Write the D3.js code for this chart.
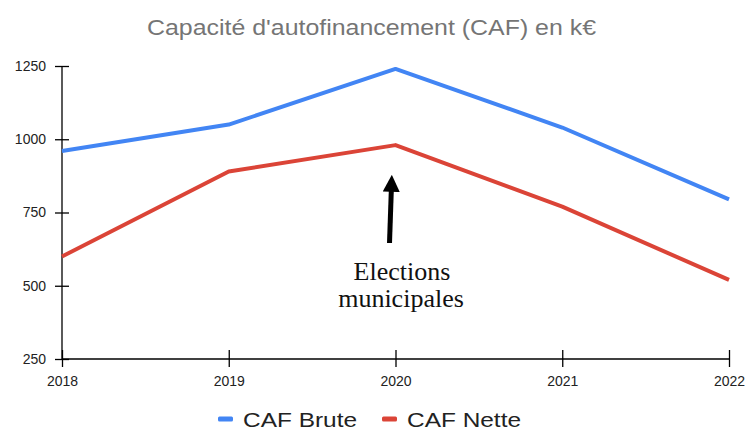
<!DOCTYPE html>
<html lang="en">
<head>
    <meta charset="UTF-8">
    <title>Capacité d'autofinancement</title>
    <script src="https://d3js.org/d3.v7.min.js"></script>
    <style>
        body {
            margin: 0;
            background: #fff;
            font-family: 'Liberation Sans', Arial, sans-serif;
        }
        svg { display: block; }
        .axis path, .axis line { stroke: #000; stroke-width: 1.3; }
        .axis text { font-size: 14px; fill: #222; font-family: 'Liberation Sans', Arial, sans-serif; }
    </style>
</head>
<body>
    <svg></svg>
    <script>
        // Chart data
        const years = [2018, 2019, 2020, 2021, 2022];
        const cafBrute = [960, 1050, 1240, 1040, 795];
        const cafNette = [600, 890, 980, 770, 520];
        const yTicks = [250, 500, 750, 1000, 1250];
        const seriesNames = ["CAF Brute", "CAF Nette"];
        const colors = ["#4285f4", "#db4437"];

        const width = 748, height = 430;
        const margin = { top: 66, right: 19, bottom: 71, left: 62 };

        const svg = d3.select("svg")
            .attr("width", width)
            .attr("height", height);

        const x = d3.scalePoint()
            .domain(years)
            .range([margin.left, width - margin.right]);

        const y = d3.scaleLinear()
            .domain([250, 1250])
            .range([height - margin.bottom, margin.top]);

        // Title (the original is a bit stretched horizontally)
        svg.append("text")
            .attr("x", 147)
            .attr("y", 35)
            .attr("textLength", 449)
            .attr("lengthAdjust", "spacingAndGlyphs")
            .style("font-size", "22px")
            .style("fill", "#757575")
            .text("Capacité d'autofinancement (CAF) en k€");

        // Y axis (ticks cross the line)
        const yAxis = svg.append("g")
            .attr("class", "axis")
            .attr("transform", `translate(${margin.left},0)`)
            .call(d3.axisLeft(y).tickValues(yTicks).tickFormat(d3.format("d")).tickSize(7).tickPadding(9));
        yAxis.select(".domain").attr("d", `M0,${y(250)}V${y(1250)}`);
        yAxis.selectAll(".tick line").attr("x1", 7).attr("x2", -7);

        // X axis
        const xAxis = svg.append("g")
            .attr("class", "axis")
            .attr("transform", `translate(0,${y(250)})`)
            .call(d3.axisBottom(x).tickFormat(d3.format("d")).tickSize(8).tickPadding(9));
        xAxis.select(".domain").attr("d", `M${margin.left},0H${width - margin.right}`);
        xAxis.selectAll(".tick line").attr("y1", -9).attr("y2", 8);

        // Lines
        const line = d3.line()
            .x((d, i) => x(years[i]))
            .y(d => y(d));

        [cafBrute, cafNette].forEach((vals, i) => {
            svg.append("path")
                .datum(vals)
                .attr("fill", "none")
                .attr("stroke", colors[i])
                .attr("stroke-width", 4)
                .attr("stroke-linejoin", "round")
                .attr("d", line);
        });

        // Annotation arrow
        svg.append("defs").append("marker")
            .attr("id", "arrow")
            .attr("viewBox", "0 0 10 10")
            .attr("refX", 4).attr("refY", 5)
            .attr("markerWidth", 3.4).attr("markerHeight", 3.4)
            .attr("orient", "auto")
            .append("path")
            .attr("d", "M0,0L10,5L0,10Z")
            .attr("fill", "#000");

        svg.append("line")
            .attr("x1", 389.5).attr("y1", 243)
            .attr("x2", 391.5).attr("y2", 185)
            .attr("stroke", "#000")
            .attr("stroke-width", 5)
            .attr("marker-end", "url(#arrow)");

        const note = svg.append("text")
            .attr("text-anchor", "middle")
            .style("font-family", "'Liberation Serif', 'Times New Roman', serif")
            .style("font-size", "26px")
            .style("fill", "#111");
        note.append("tspan").attr("x", 402).attr("y", 280).text("Elections");
        note.append("tspan").attr("x", 401).attr("y", 307).text("municipales");

        // Legend
        const legendX = [218, 382];
        seriesNames.forEach((name, i) => {
            const g = svg.append("g").attr("transform", `translate(${legendX[i]},419)`);
            g.append("rect")
                .attr("x", 0).attr("y", -2.5)
                .attr("width", 15).attr("height", 5)
                .attr("rx", 1.5)
                .attr("fill", colors[i]);
            g.append("text")
                .attr("x", 25)
                .attr("y", 7.5)
                .attr("textLength", 114)
                .attr("lengthAdjust", "spacingAndGlyphs")
                .style("font-size", "21px")
                .style("fill", "#222")
                .text(name);
        });
    </script>
</body>
</html>
